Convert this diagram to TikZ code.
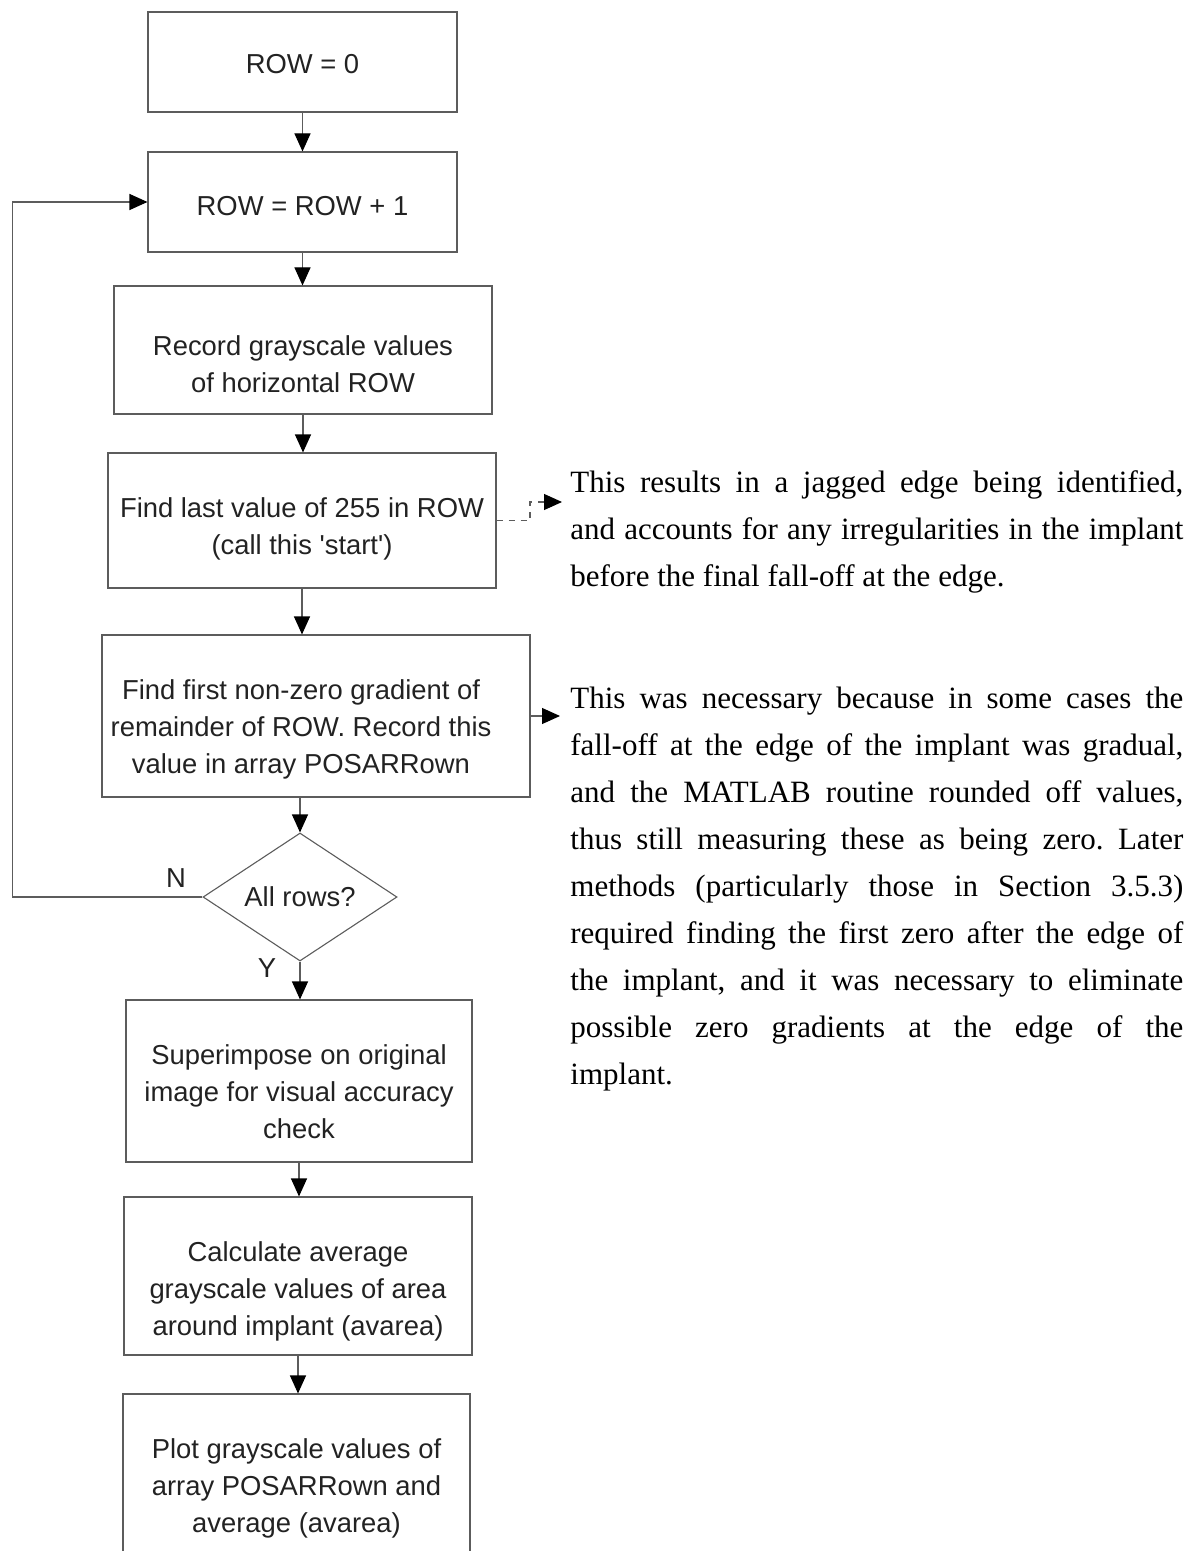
\documentclass[tikz,border=0pt]{standalone}
\usepackage{fontspec}
\setmainfont{Liberation Serif}
\newfontfamily\boxfont{Liberation Sans}
\usetikzlibrary{shapes.geometric}
\usetikzlibrary{arrows.meta}
\usetikzlibrary{positioning}
\newdimen\pxu
\pxu=0.5pt
\hyphenpenalty=10000
\exhyphenpenalty=10000
\frenchspacing
\definecolor{linegray}{HTML}{5C5C5C}
\definecolor{textgray}{HTML}{222222}
\tikzset{
    stepbox/.style  = {draw = linegray, line width = 0.55pt, inner sep = 0pt},
    steptext/.style = {align = center, text = textgray, font = \boxfont\fontsize{13.7}{18.5}\selectfont},
    flow/.style     = {draw = linegray, line width = 0.55pt, -{Triangle[length = 9pt, width = 8pt, color = black]}},
    note/.style     = {align = justify, text width = 306.5pt, inner sep = 0pt, anchor = north west,
                       font = \fontsize{15.5}{23.5}\selectfont},
}

\begin{document}
\begin{tikzpicture}[x = 0.5pt, y = -0.5pt]
    \useasboundingbox[clip] (0,0) rectangle (1203,1551);

    % flow chart boxes
    \node (row0) at (302.5,62) [stepbox, minimum width = 309\pxu, minimum height = 100\pxu,
        label = {[steptext, yshift = -1pt]center:{ROW = 0}}] {};
    \node (rowinc) at (302.5,202) [stepbox, minimum width = 309\pxu, minimum height = 100\pxu,
        label = {[steptext, yshift = -2pt]center:{ROW = ROW + 1}}] {};
    \node (record) at (303,350) [stepbox, minimum width = 378\pxu, minimum height = 128\pxu,
        label = {[steptext, yshift = -7pt]center:{Record grayscale values\\of horizontal ROW}}] {};
    \node (findlast) at (302,520.5) [stepbox, minimum width = 388\pxu, minimum height = 135\pxu,
        label = {[steptext, yshift = -4pt]center:{Find last value of 255 in ROW\\(call this 'start')}}] {};
    \node (findfirst) at (316,716) [stepbox, minimum width = 428\pxu, minimum height = 162\pxu,
        label = {[steptext, xshift = -7.5pt, yshift = -6.5pt]center:{Find first non-zero gradient of\\remainder of ROW. Record this\\value in array POSARRown}}] {};
    \node (allrows) at (300,897) [stepbox, diamond, aspect = 1.5, minimum width = 194\pxu, minimum height = 128\pxu,
        steptext] {All rows?};
    \node (superimpose) at (299,1081) [stepbox, minimum width = 346\pxu, minimum height = 162\pxu,
        label = {[steptext, yshift = -5.5pt]center:{Superimpose on original\\image for visual accuracy\\check}}] {};
    \node (calculate) at (298,1276) [stepbox, minimum width = 348\pxu, minimum height = 158\pxu,
        label = {[steptext, yshift = -7.5pt]center:{Calculate average\\grayscale values of area\\around implant (avarea)}}] {};
    \node (plot) at (296.5,1482) [stepbox, minimum width = 347\pxu, minimum height = 176\pxu,
        label = {[steptext, yshift = -3pt]center:{Plot grayscale values of\\array POSARRown and\\average (avarea)}}] {};

    \node (lblN) at (176,878) [steptext] {N};
    \node (lblY) at (267,968) [steptext] {Y};

    % connectors
    \foreach \a/\b in {row0/rowinc, rowinc/record, record/findlast, findlast/findfirst,
                       allrows/superimpose, superimpose/calculate, calculate/plot}{
        \draw[flow] (\a.south) -- (\a.south |- \b.north);
    }
    \draw[flow] (allrows.north |- findfirst.south) -- (allrows.north);
    \draw[flow] (allrows.west) -- ++(-190,0) |- (rowinc.west);

    % notes
    \coordinate (bendA) at (530,502);
    \coordinate (tipA) at (562,502);
    \coordinate (tipB) at (560,716);
    \draw[flow, dashed] (findlast.east) -| (bendA) -- (tipA);
    \draw[flow] (findfirst.east) -- (tipB);

    \node (noteA) at (570,470) [note] {This results in a jagged edge being identified,\linebreak
        and accounts for any irregularities in the implant\linebreak
        before the final fall-off at the edge.};
    \node (noteB) at (570,687) [note] {This was necessary because in some cases the\linebreak
        fall-off at the edge of the implant was gradual,\linebreak
        and the MATLAB routine rounded off values,\linebreak
        thus still measuring these as being zero. Later\linebreak
        methods (particularly those in Section 3.5.3)\linebreak
        required finding the first zero after the edge of\linebreak
        the implant, and it was necessary to eliminate\linebreak
        possible zero gradients at the edge of the\linebreak
        implant.};
\end{tikzpicture}
\end{document}
